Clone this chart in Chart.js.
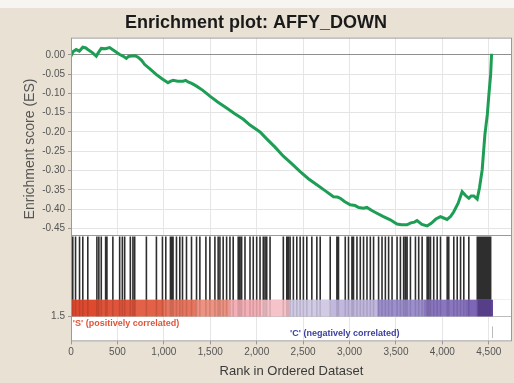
<!DOCTYPE html>
<html>
<head>
<meta charset="utf-8">
<script src="https://cdn.jsdelivr.net/npm/chart.js@4/dist/chart.umd.min.js"></script>
<style>
  body { margin: 0; background: #e8e1d4; }
  canvas { display: block; }
</style>
</head>
<body>
<canvas id="myChart" width="514" height="383"></canvas>
<script>
// running enrichment score
var esRank = [0, 20, 56, 90, 127, 160, 181, 230, 272, 300, 326, 370, 416, 470, 524, 560, 596, 620, 650, 690,
  722, 760, 794, 850, 920, 980, 1045, 1075, 1100, 1150, 1208, 1235, 1261, 1300, 1352, 1420, 1496, 1580, 1676,
  1760, 1856, 1928, 2036, 2108, 2200, 2287, 2380, 2468, 2560, 2648, 2740, 2827, 2870, 2900, 2950, 3008, 3060,
  3100, 3151, 3187, 3240, 3295, 3360, 3439, 3511, 3560, 3619, 3660, 3700, 3727, 3780, 3835, 3880, 3930, 3979,
  4020, 4051, 4090, 4123, 4170, 4213, 4250, 4285, 4310, 4339, 4375, 4400, 4429, 4458, 4484, 4501, 4520, 4530];
var esValue = [-0.003, 0.008, 0.014, 0.010, 0.020, 0.018, 0.014, 0.006, -0.003, 0.008, 0.017, 0.016, 0.019, 0.010,
  0.001, -0.003, -0.009, -0.004, -0.003, -0.002, -0.006, -0.014, -0.025, -0.036, -0.051, -0.062, -0.072, -0.068,
  -0.066, -0.068, -0.068, -0.066, -0.070, -0.074, -0.081, -0.092, -0.107, -0.122, -0.138, -0.152, -0.167, -0.182,
  -0.200, -0.218, -0.240, -0.263, -0.283, -0.303, -0.322, -0.337, -0.353, -0.368, -0.369, -0.372, -0.381, -0.389,
  -0.391, -0.396, -0.398, -0.396, -0.404, -0.411, -0.419, -0.428, -0.439, -0.441, -0.441, -0.436, -0.434, -0.430,
  -0.440, -0.444, -0.437, -0.426, -0.420, -0.424, -0.427, -0.419, -0.407, -0.385, -0.355, -0.365, -0.372, -0.366,
  -0.366, -0.374, -0.345, -0.298, -0.207, -0.155, -0.103, -0.051, 0.003];

// positions of the gene set members in the ranked list
var hits = [19, 49, 92, 127, 181, 279, 300, 326, 373, 387, 451, 524, 553, 578, 639, 667, 686, 812, 920, 985,
  1021, 1071, 1085, 1099, 1136, 1172, 1201, 1244, 1298, 1352, 1388, 1453, 1496, 1550, 1585, 1604, 1639, 1676,
  1712, 1747, 1801, 1809, 1820, 1838, 1874, 1928, 1963, 2000, 2036, 2071, 2090, 2108, 2144, 2287, 2324, 2341,
  2360, 2395, 2432, 2468, 2503, 2540, 2594, 2648, 2684, 2792, 2864, 2881, 2954, 2989, 3026, 3043, 3080, 3116,
  3151, 3188, 3224, 3259, 3313, 3350, 3386, 3421, 3458, 3512, 3548, 3583, 3602, 3620, 3656, 3710, 3745, 3782,
  3836, 3853, 3872, 3907, 3944, 3980, 4052, 4069, 4123, 4160, 4196, 4231, 4285, 4376, 4385, 4393, 4402, 4412,
  4420, 4430, 4440, 4447, 4455, 4466, 4475, 4484, 4492, 4500, 4510, 4520];

// ranked list metric colour band
var bandEdges = [0, 300, 700, 1000, 1350, 1700, 2050, 2350, 2800, 3300, 3800, 4250, 4380, 4540];
var bandColors = ['#dd4a30', '#df543a', '#e36146', '#e8765e', '#ee9282', '#f4b0b6', '#f6c3cb',
  '#d2cbe6', '#c2b8df', '#9d8fcd', '#8a76c0', '#7d66b6', '#62479c'];

var xTicks = [0, 500, 1000, 1500, 2000, 2500, 3000, 3500, 4000, 4500];
var esTicks = [0, -0.05, -0.1, -0.15, -0.2, -0.25, -0.3, -0.35, -0.4, -0.45];
var zeroCross = 2360;

// lower panel layout (yb units)
var bandLow = 1.5, bandHigh = 2.5, hitLow = 2.5, hitHigh = 6.3;

var esPoints = esRank.map(function (r, i) { return { x: r, y: esValue[i] }; });
var hitLines = [], hitShade = [];
hits.forEach(function (r) {
  hitLines.push({ x: r, y: hitLow }, { x: r, y: hitHigh }, { x: r, y: null });
  hitShade.push({ x: r, y: bandLow }, { x: r, y: bandHigh }, { x: r, y: null });
});

Chart.defaults.font.family = "'Liberation Sans', Arial, sans-serif";

var panels = {
  id: 'panels',
  beforeDraw: function (chart) {
    var ctx = chart.ctx, a = chart.chartArea;
    ctx.save();
    ctx.fillStyle = '#f7f5f1';
    ctx.fillRect(0, 0, chart.width, 8);
    ctx.fillStyle = '#e8e1d4';
    ctx.fillRect(0, 8, chart.width, chart.height - 8);
    ctx.fillStyle = '#ffffff';
    ctx.fillRect(a.left, a.top, a.right - a.left, a.bottom - a.top);
    ctx.restore();
  },
  beforeDatasetsDraw: function (chart) {
    var ctx = chart.ctx, a = chart.chartArea, x = chart.scales.x, yb = chart.scales.yb;
    ctx.save();
    // barcode area plain white
    var t = yb.top, b = yb.getPixelForValue(bandHigh);
    ctx.fillStyle = '#ffffff';
    ctx.fillRect(a.left + 1, t + 1, a.right - a.left - 2, b - t - 1);
    var top = yb.getPixelForValue(bandHigh), bot = yb.getPixelForValue(bandLow);
    for (var i = 0; i < bandColors.length; i++) {
      var x0 = x.getPixelForValue(bandEdges[i]), x1 = x.getPixelForValue(bandEdges[i + 1]);
      ctx.fillStyle = bandColors[i];
      ctx.fillRect(x0, top, x1 - x0 + 0.5, bot - top);
    }
    ctx.restore();
  },
  afterDraw: function (chart) {
    var ctx = chart.ctx, a = chart.chartArea, x = chart.scales.x, yb = chart.scales.yb;
    ctx.save();
    ctx.strokeStyle = '#9a9a9a';
    ctx.lineWidth = 1;
    ctx.strokeRect(a.left + 0.5, a.top + 0.5, a.right - a.left - 1, a.bottom - a.top - 1);
    ctx.beginPath();
    ctx.moveTo(a.left, Math.round(yb.top) + 0.5);
    ctx.lineTo(a.right, Math.round(yb.top) + 0.5);
    ctx.stroke();

    ctx.font = 'bold 9px "Liberation Sans", Arial, sans-serif';
    ctx.textBaseline = 'middle';
    ctx.fillStyle = '#e0553a';
    ctx.fillText("'S' (positively correlated)", x.getPixelForValue(20), yb.getPixelForValue(1.1));
    ctx.fillStyle = '#3c3f9e';
    ctx.fillText("'C' (negatively correlated)", x.getPixelForValue(zeroCross), yb.getPixelForValue(0.45));

    ctx.strokeStyle = '#bbbbbb';
    var xe = Math.round(x.getPixelForValue(esRank[esRank.length - 1])) + 0.5;
    ctx.beginPath();
    ctx.moveTo(xe, yb.getPixelForValue(0.9));
    ctx.lineTo(xe, yb.getPixelForValue(0.2));
    ctx.stroke();

    ctx.translate(30, 149);
    ctx.rotate(-Math.PI / 2);
    ctx.font = '14px "Liberation Sans", Arial, sans-serif';
    ctx.fillStyle = '#555555';
    ctx.textAlign = 'center';
    ctx.fillText('Enrichment score (ES)', 0, 0);
    ctx.restore();
  }
};

var ctx = document.getElementById('myChart');
var myChart = new Chart(ctx, {
  type: 'line',
  data: {
    datasets: [{
      label: 'hits',
      data: hitLines,
      yAxisID: 'yb',
      borderColor: '#2e2e2e',
      borderWidth: 1.6,
      pointRadius: 0,
      spanGaps: false,
      order: 3
    }, {
      label: 'hit shade',
      data: hitShade,
      yAxisID: 'yb',
      borderColor: 'rgba(0, 0, 0, 0.12)',
      borderWidth: 1.6,
      pointRadius: 0,
      spanGaps: false,
      order: 2
    }, {
      label: 'Enrichment score',
      data: esPoints,
      yAxisID: 'y',
      borderColor: '#1e9e55',
      borderWidth: 3,
      pointRadius: 0,
      tension: 0,
      order: 1
    }]
  },
  options: {
    responsive: false,
    animation: false,
    layout: { padding: { left: 0, right: 2, top: 0, bottom: 0 } },
    plugins: {
      legend: { display: false },
      tooltip: { enabled: false },
      title: {
        display: true,
        text: 'Enrichment plot: AFFY_DOWN',
        color: '#1a1a1a',
        font: { size: 18, weight: 'bold' },
        padding: { top: 12, bottom: 4 }
      }
    },
    scales: {
      x: {
        type: 'linear',
        min: 0,
        max: 4750,
        afterBuildTicks: function (s) { s.ticks = xTicks.map(function (v) { return { value: v }; }); },
        ticks: { color: '#555', font: { size: 10 }, padding: 2, maxRotation: 0, autoSkip: false,
          callback: function (v) { return v.toLocaleString('en-US'); } },
        grid: { color: '#e6e6e6', tickLength: 3, tickColor: '#999' },
        border: { display: false },
        title: { display: true, text: 'Rank in Ordered Dataset', color: '#3a3a3a', font: { size: 13 },
          padding: { top: 3, bottom: 4 } }
      },
      yb: {
        type: 'linear',
        position: 'left',
        stack: 'es',
        stackWeight: 107,
        min: 0,
        max: 6.4,
        afterFit: function (s) { s.width = 71; },
        afterBuildTicks: function (s) { s.ticks = [{ value: bandLow }, { value: bandHigh }]; },
        ticks: { color: '#555', font: { size: 10 }, padding: 3, autoSkip: false,
          callback: function (v) { return v === bandLow ? '1.5' : ''; } },
        grid: { color: '#bdbdbd', tickLength: 3, tickColor: function (c) { return c.tick && c.tick.value === bandLow ? '#999' : 'rgba(0,0,0,0)'; } },
        border: { display: false }
      },
      y: {
        type: 'linear',
        position: 'left',
        stack: 'es',
        stackWeight: 198,
        min: -0.467,
        max: 0.045,
        afterFit: function (s) { s.width = 71; },
        afterBuildTicks: function (s) { s.ticks = esTicks.map(function (v) { return { value: v }; }); },
        ticks: { color: '#555', font: { size: 10 }, padding: 3, autoSkip: false,
          callback: function (v) { return v.toFixed(2); } },
        grid: {
          color: function (c) { return c.tick && c.tick.value === 0 ? '#8f8f8f' : '#e4e4e4'; },
          tickLength: 3, tickColor: '#999'
        },
        border: { display: false }
      }
    }
  },
  plugins: [panels]
});
</script>
</body>
</html>
